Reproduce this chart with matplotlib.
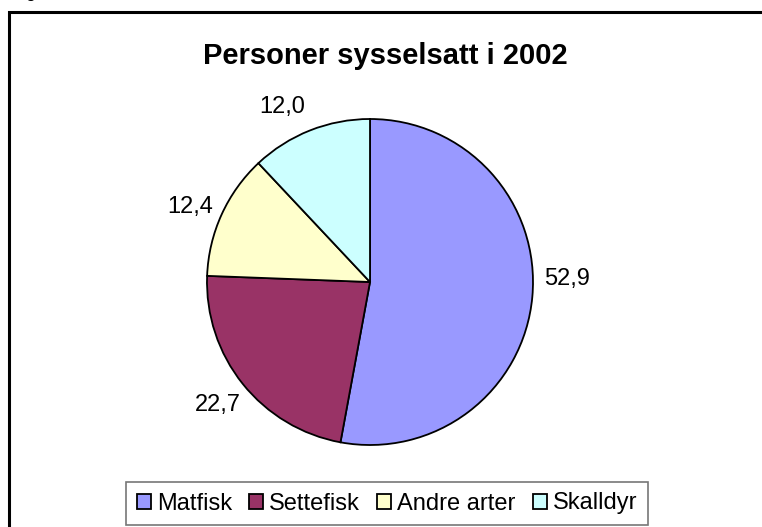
import matplotlib.pyplot as plt
from matplotlib.patches import Rectangle
from matplotlib.transforms import offset_copy

plt.rcParams['font.family'] = ['Liberation Sans', 'DejaVu Sans']

categories = ['Matfisk', 'Settefisk', 'Andre arter', 'Skalldyr']
values = [52.9, 22.7, 12.4, 12.0]
colors = ['#9999FF', '#993366', '#FFFFCC', '#CCFFFF']
title = 'Personer sysselsatt i 2002'

W, H = 762, 527
fig = plt.figure(figsize=(W / 100, H / 100), dpi=100)

# outer chart frame (right and bottom edges fall outside the picture)
fig.patches.append(Rectangle((9 / W, -0.1), 1.2, 1 - 12 / H + 0.1,
                             transform=fig.transFigure, fill=False,
                             edgecolor='black', linewidth=2.2))
# cut-off text above the frame
fig.text(25 / W, 1 + 3 / H, 'g', fontsize=13, va='baseline')

# pie: centre (370, 282) px, radius 163 px
r = 163
cx, cy = 370, 282
half = 1.5
ax = fig.add_axes([(cx - half * r) / W, (H - cy - half * r) / H,
                   2 * half * r / W, 2 * half * r / H])
ax.axis('off')

labels = [f'{v:.1f}'.replace('.', ',') for v in values]
wedges, texts = ax.pie(values, colors=colors, startangle=90, counterclock=False,
                       labels=labels, labeldistance=1.2, radius=1,
                       wedgeprops=dict(edgecolor='black', linewidth=1.3),
                       textprops=dict(fontsize=17))
# small pixel nudges to mimic the original label placement
nudges = [(2, 21), (1, -1), (-2, -6), (-16, -7)]
for t, (dx, dy) in zip(texts, nudges):
    t.set_ha('center')
    t.set_va('center')
    t.set_transform(offset_copy(t.get_transform(), fig=fig, x=dx, y=dy,
                                units='dots'))
ax.set_xlim(-half, half)
ax.set_ylim(-half, half)

fig.text(385 / W, 1 - 56 / H, title, fontsize=21, fontweight='bold',
         ha='center', va='center')

leg = fig.legend(wedges, categories, loc='center', ncol=4,
                 bbox_to_anchor=(387 / W, 1 - 503.5 / H), fontsize=17,
                 handlelength=0.6, handleheight=0.6, handletextpad=0.25,
                 columnspacing=0.72, borderpad=0.45, fancybox=False,
                 frameon=True)
leg.get_frame().set_edgecolor('#555555')
leg.get_frame().set_linewidth(1.2)

fig.savefig('out.png', dpi=100)
